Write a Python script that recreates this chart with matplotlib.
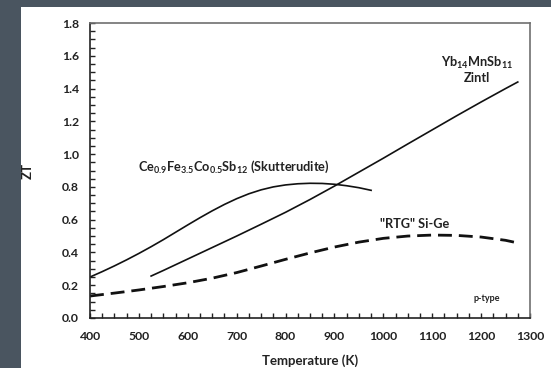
import numpy as np
import matplotlib
matplotlib.use('Agg')
import matplotlib.pyplot as plt
from matplotlib.patches import Rectangle
from matplotlib.ticker import MultipleLocator

plt.rcParams['font.family'] = ['Lato', 'DejaVu Sans']
plt.rcParams['mathtext.fontset'] = 'custom'
plt.rcParams['mathtext.rm'] = 'Lato:bold'
plt.rcParams['mathtext.bf'] = 'Lato:bold'
plt.rcParams['mathtext.default'] = 'bf'

# ZT vs temperature for three p-type materials
skut_T = [400, 425, 450, 475, 500, 525, 550, 575, 600, 625, 650, 675, 700,
          725, 750, 775, 800, 825, 850, 875, 900, 925, 950, 975]
skut_zt = [0.25, 0.283, 0.318, 0.355, 0.394, 0.435, 0.478, 0.523, 0.568, 0.612,
           0.654, 0.693, 0.728, 0.758, 0.782, 0.800, 0.812, 0.819, 0.822, 0.821,
           0.816, 0.807, 0.795, 0.779]

zintl_T = [525, 550, 600, 650, 700, 750, 800, 850, 900, 950, 1000, 1050,
           1100, 1150, 1200, 1250, 1275]
zintl_zt = [0.256, 0.29, 0.36, 0.43, 0.50, 0.572, 0.645, 0.723, 0.805, 0.89,
            0.975, 1.062, 1.148, 1.234, 1.318, 1.40, 1.44]

sige_T = [400, 450, 500, 550, 600, 650, 700, 750, 800, 850, 900, 950, 1000,
          1050, 1100, 1150, 1200, 1250, 1275]
sige_zt = [0.134, 0.152, 0.171, 0.192, 0.215, 0.243, 0.277, 0.317, 0.358, 0.397,
           0.433, 0.463, 0.486, 0.50, 0.506, 0.504, 0.494, 0.474, 0.458]

fig = plt.figure(figsize=(5.51, 3.68), dpi=100)
fig.patch.set_facecolor('#4a5560')
# white slide panel behind the chart
fig.add_artist(Rectangle((21 / 551, 0), 1, (368 - 7) / 368,
                         transform=fig.transFigure, facecolor='white',
                         edgecolor='none', zorder=-10))

ax = fig.add_axes([90 / 551, (368 - 318) / 368, 440 / 551, 295 / 368])
ax.set_facecolor('white')

ax.plot(skut_T, skut_zt, color='#111111', lw=1.2)
ax.plot(zintl_T, zintl_zt, color='#111111', lw=1.2)
ax.plot(sige_T, sige_zt, color='#111111', lw=2.0, dashes=(5, 2.5))

ax.set_xlim(400, 1300)
ax.set_ylim(0, 1.8)
ax.xaxis.set_major_locator(MultipleLocator(100))
ax.xaxis.set_minor_locator(MultipleLocator(25))
ax.yaxis.set_major_locator(MultipleLocator(0.2))
ax.yaxis.set_minor_locator(MultipleLocator(0.05))
ax.yaxis.set_major_formatter(plt.FuncFormatter(lambda v, p: f'{v:.1f}'))

ax.tick_params(which='both', direction='in', length=3.5, width=1, color='#222222',
               top=False, right=False)
ax.tick_params(axis='x', which='major', labelsize=8.8, pad=9)
ax.tick_params(axis='y', which='major', labelsize=8.8, pad=8)
for lab in ax.get_xticklabels() + ax.get_yticklabels():
    lab.set_fontweight('bold')
    lab.set_color('#222222')

for side in ['left', 'bottom']:
    ax.spines[side].set_color('#222222')
    ax.spines[side].set_linewidth(1.2)
for side in ['top', 'right']:
    ax.spines[side].set_color('#707070')
    ax.spines[side].set_linewidth(1.2)

ax.set_xlabel('Temperature (K)', fontsize=9.5, fontweight='bold', color='#222222', labelpad=9)
ax.set_ylabel('ZT', fontsize=9.5, fontweight='bold', color='#222222', labelpad=20)

ax.text(694, 0.92, r'Ce$_{0.9}$Fe$_{3.5}$Co$_{0.5}$Sb$_{12}$ (Skutterudite)',
        ha='center', va='center', fontsize=9.2, fontweight='bold', color='#222222')
ax.text(1191, 1.555, r'Yb$_{14}$MnSb$_{11}$', ha='center', va='center',
        fontsize=9.2, fontweight='bold', color='#222222')
ax.text(1191, 1.463, 'Zintl', ha='center', va='center',
        fontsize=9.2, fontweight='bold', color='#222222')
ax.text(1065, 0.573, '"RTG" Si-Ge', ha='center', va='center',
        fontsize=9.2, fontweight='bold', color='#222222')
ax.text(1212, 0.116, 'p-type', ha='center', va='center',
        fontsize=6.5, fontweight='bold', color='#222222')

fig.savefig('out.png', dpi=100, facecolor=fig.get_facecolor())
